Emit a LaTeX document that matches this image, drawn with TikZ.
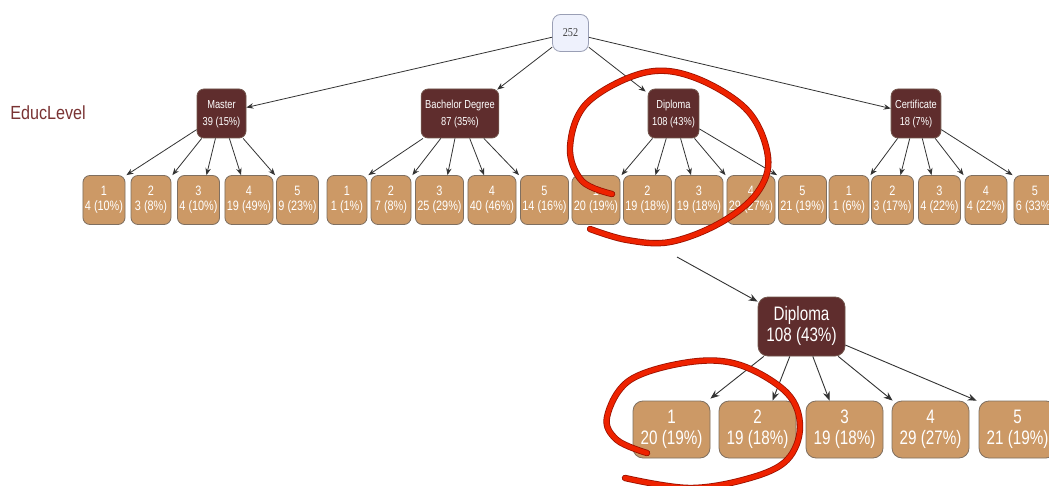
\documentclass[tikz,border=0pt]{standalone}
\usepackage{fontspec}
\setmainfont{Liberation Sans}
\newfontfamily\rootfont{Liberation Serif}
\usetikzlibrary{calc,arrows.meta}
\definecolor{boxbrown}{HTML}{5F2D2D}
\definecolor{boxtan}{HTML}{CC9966}
\definecolor{boxedge}{HTML}{7F6F60}
\definecolor{rootfill}{HTML}{EEF1FC}
\definecolor{rootedge}{HTML}{9A9FB5}
\definecolor{labelred}{HTML}{7A3333}
\definecolor{penred}{HTML}{EE2200}
\definecolor{pendark}{HTML}{991100}
\newcommand{\tl}[3]{\scalebox{#1}[1]{\begin{tabular}{@{}c@{}}#2\\#3\end{tabular}}}
\tikzset{
  leaf/.style={draw=boxedge, line width=0.8pt, fill=boxtan, rounded corners=7pt, text=white,
    font=\fontsize{13.6}{15.5}\selectfont, minimum width=40pt, minimum height=49pt,
    inner xsep=2pt, inner ysep=0pt},
  cat/.style={draw=boxedge!60!boxbrown, line width=0.8pt, fill=boxbrown, rounded corners=7pt, text=white,
    font=\fontsize{11.6}{16.5}\selectfont, minimum width=49pt, minimum height=49pt,
    inner xsep=4pt, inner ysep=0pt},
  bigcat/.style={cat, font=\fontsize{19.5}{21.5}\selectfont, minimum width=87pt, minimum height=59pt,
    rounded corners=10pt, inner xsep=8pt},
  bigleaf/.style={leaf, font=\fontsize{19.5}{21}\selectfont, minimum width=77pt, minimum height=57pt,
    rounded corners=10pt, inner xsep=6pt},
  rootbox/.style={draw=rootedge, line width=0.8pt, fill=rootfill, rounded corners=8pt,
    minimum width=36pt, minimum height=37pt, font=\rootfont\fontsize{12}{14}\selectfont, text=black!75},
  edge/.style={draw=black!80, line width=0.8pt, -{Stealth[length=7pt,width=5.5pt]}},
  bigedge/.style={draw=black!80, line width=0.9pt, -{Stealth[length=9pt,width=7pt]}},
  pen/.style={draw=penred, line width=4.8pt, line cap=round, line join=round,
    preaction={draw=pendark, line width=6.4pt, line cap=round, line join=round}}
}
\begin{document}
\begin{tikzpicture}[x=1pt,y=-1pt]
\useasboundingbox (0,0) rectangle (1049,486);
\fill[white] (0,0) rectangle (1049,486);

\node[text=labelred, font=\fontsize{19}{22}\selectfont] (lbl) at (48,113) {\scalebox{0.85}[1]{EducLevel}};

\node[rootbox] (R) at (570.5,33) {\scalebox{0.85}[1]{252}};

\node[cat] (M) at (221.5,113.5) {\tl{0.8}{Master}{39 (15\%)}};
\node[cat] (B) at (460,113.5) {\tl{0.8}{Bachelor Degree}{87 (35\%)}};
\node[cat] (D) at (673.5,113.5) {\tl{0.8}{Diploma}{108 (43\%)}};
\node[cat] (C) at (916,113.5) {\tl{0.8}{Certificate}{18 (7\%)}};

\node[leaf] (M1) at (104,200) {\tl{0.8}{1}{4 (10\%)}};
\node[leaf] (M2) at (151,200) {\tl{0.8}{2}{3 (8\%)}};
\node[leaf] (M3) at (198.5,200) {\tl{0.8}{3}{4 (10\%)}};
\node[leaf] (M4) at (249,200) {\tl{0.8}{4}{19 (49\%)}};
\node[leaf] (M5) at (297.5,200) {\tl{0.8}{5}{9 (23\%)}};
\node[leaf] (B1) at (347,200) {\tl{0.8}{1}{1 (1\%)}};
\node[leaf] (B2) at (391,200) {\tl{0.8}{2}{7 (8\%)}};
\node[leaf] (B3) at (439.5,200) {\tl{0.8}{3}{25 (29\%)}};
\node[leaf] (B4) at (492,200) {\tl{0.8}{4}{40 (46\%)}};
\node[leaf] (B5) at (544.5,200) {\tl{0.8}{5}{14 (16\%)}};
\node[leaf] (D1) at (596,200) {\tl{0.8}{1}{20 (19\%)}};
\node[leaf] (D2) at (647.5,200) {\tl{0.8}{2}{19 (18\%)}};
\node[leaf] (D3) at (699,200) {\tl{0.8}{3}{19 (18\%)}};
\node[leaf] (D4) at (751,200) {\tl{0.8}{4}{29 (27\%)}};
\node[leaf] (D5) at (802.5,200) {\tl{0.8}{5}{21 (19\%)}};
\node[leaf] (C1) at (849,200) {\tl{0.8}{1}{1 (6\%)}};
\node[leaf] (C2) at (892.5,200) {\tl{0.8}{2}{3 (17\%)}};
\node[leaf] (C3) at (939.5,200) {\tl{0.8}{3}{4 (22\%)}};
\node[leaf] (C4) at (986,200) {\tl{0.8}{4}{4 (22\%)}};
\node[leaf] (C5) at (1035,200) {\tl{0.8}{5}{6 (33\%)}};

% top edges
\draw[edge] (R) -- ($(M.east)+(0,-6)$);
\draw[edge] (R) -- ($(B.north east)+(-2,1)$);
\draw[edge] (R) -- ($(D.north west)+(-2,3)$);
\draw[edge] (R) -- ($(C.west)+(0,-5)$);

% level 1 to leaves
\foreach \p in {M,B}{
  \draw[edge] (\p) -- ($(\p1.north east)+(1,0)$);
  \draw[edge] (\p) -- ($(\p2.north east)+(1,0)$);
  \draw[edge] (\p) -- ($(\p3.north)+(8,0)$);
  \draw[edge] (\p) -- ($(\p4.north)+(-8,0)$);
  \draw[edge] (\p) -- ($(\p5.north west)+(-1,0)$);
}
\foreach \p in {D,C}{
  \draw[edge] (\p) -- ($(\p1.north east)+(1,0)$);
  \draw[edge] (\p) -- ($(\p2.north)+(8,0)$);
  \draw[edge] (\p) -- ($(\p3.north)+(-8,0)$);
  \draw[edge] (\p) -- ($(\p4.north west)+(-1,0)$);
  \draw[edge] (\p) -- ($(\p5.north west)+(-1,0)$);
}

% enlarged part
\node[bigcat] (BD) at (801.5,326.5) {\tl{0.78}{Diploma}{108 (43\%)}};
\node[bigleaf] (E1) at (671.5,429.5) {\tl{0.78}{1}{20 (19\%)}};
\node[bigleaf] (E2) at (757.5,429.5) {\tl{0.78}{2}{19 (18\%)}};
\node[bigleaf] (E3) at (844.5,429.5) {\tl{0.78}{3}{19 (18\%)}};
\node[bigleaf] (E4) at (930.5,429.5) {\tl{0.78}{4}{29 (27\%)}};
\node[bigleaf] (E5) at (1017.5,429.5) {\tl{0.78}{5}{21 (19\%)}};

\coordinate (zs) at (677,257);
\draw[bigedge] (zs) -- ($(BD.north west)+(0,5)$);
\draw[bigedge] (BD) -- ($(E1.north east)+(0,-2)$);
\draw[bigedge] (BD) -- ($(E2.north)+(15,0)$);
\draw[bigedge] (BD) -- ($(E3.north)+(-15,0)$);
\draw[bigedge] (BD) -- ($(E4.north west)+(1,0)$);
\draw[bigedge] (BD) -- ($(E5.north west)+(-2,0)$);

% red pen loops
\draw[pen] plot[smooth, tension=0.6] coordinates {(612,194) (582,181) (570,147) (587,103) (643,73) (693,77) (747,110) (768,157) (757,193) (720,223) (670,242) (627,240) (590,229)};
\draw[pen] plot[smooth, tension=0.6] coordinates {(647,453) (617,440) (607,417) (630,380) (690,362) (740,365) (787,393) (800,427) (787,460) (750,478) (690,488) (625,478)};
\end{tikzpicture}
\end{document}
